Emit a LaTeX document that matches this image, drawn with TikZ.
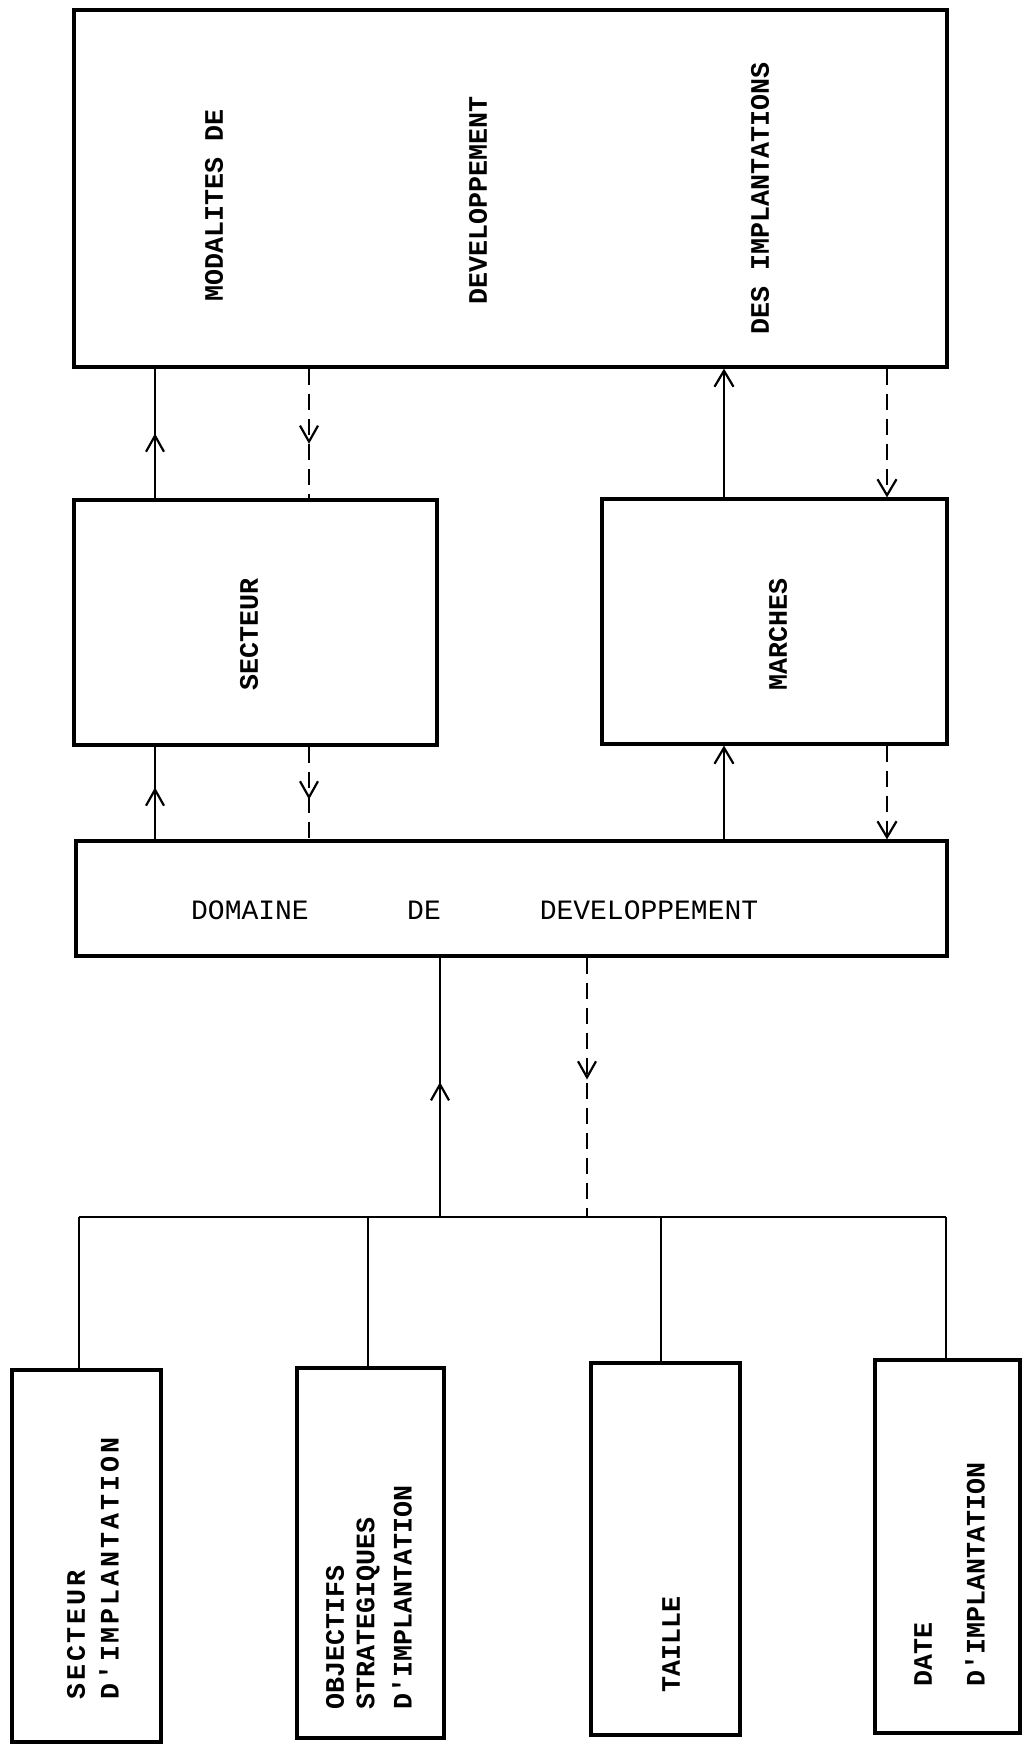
\documentclass[tikz,border=0pt]{standalone}
\usepackage{fontspec}
\newfontfamily\tw{Liberation Mono}
\newfontfamily\twsp[LetterSpace=11]{Liberation Mono}
\usetikzlibrary{arrows.meta,decorations.markings}
\begin{document}
\begin{tikzpicture}[x=1pt,y=-1pt,
  box/.style={draw, line width=3.2pt, inner sep=0pt, rectangle},
  conn/.style={line width=2.2pt},
  dsh/.style={conn, dash pattern=on 16pt off 9pt},
  tipend/.style={-{Straight Barb[length=16pt,width=19pt]}},
  midarrow/.style={postaction={decorate}, decoration={markings, mark=at position #1 with {\arrow{Straight Barb[length=16pt,width=18pt]}}}},
  vt/.style={rotate=90, anchor=west, inner sep=0pt, font=\tw\bfseries\fontsize{26.67}{30}\selectfont},
  vtsp/.style={rotate=90, anchor=west, inner sep=0pt, font=\twsp\bfseries\fontsize{26.67}{30}\selectfont},
  ht/.style={anchor=center, inner sep=0pt, font=\tw\fontsize{28}{30}\selectfont},
]
\fill[white] (0,0) rectangle (1027,1745);

% boxes
\node[box, minimum width=873pt, minimum height=357pt] (top) at (510.5,188.5) {};
\node[box, minimum width=363pt, minimum height=245pt] (secteur) at (255.5,622.5) {};
\node[box, minimum width=345pt, minimum height=245pt] (marches) at (774.5,621.5) {};
\node[box, minimum width=871pt, minimum height=115pt] (domaine) at (511.5,898.5) {};
\node[box, minimum width=149pt, minimum height=372pt] (b1) at (86.5,1556) {};
\node[box, minimum width=147pt, minimum height=370pt] (b2) at (370.5,1553) {};
\node[box, minimum width=149pt, minimum height=372pt] (b3) at (665.5,1549) {};
\node[box, minimum width=145pt, minimum height=373pt] (b4) at (947.5,1546.5) {};

% texts
\node[vt] (t1) at (214,302) {MODALITES DE};
\node[vt] (t2) at (478,305) {DEVELOPPEMENT};
\node[vt] (t3) at (760,335) {DES IMPLANTATIONS};
\node[vt] (ts) at (249,691) {SECTEUR};
\node[vt] (tm) at (778,691) {MARCHES};
\node[ht] (d1) at (250,910) {DOMAINE};
\node[ht] (d2) at (424,910) {DE};
\node[ht] (d3) at (649,910) {DEVELOPPEMENT};
\node[vtsp] (b1a) at (76,1700) {SECTEUR};
\node[vtsp] (b1b) at (109,1700) {D'IMPLANTATION};
\node[vt] (b2a) at (335,1710) {OBJECTIFS};
\node[vt] (b2b) at (368,1710) {STRATEGIQUES};
\node[vt] (b2c) at (402,1710) {D'IMPLANTATION};
\node[vt] (b3a) at (671,1693) {TAILLE};
\node[vt] (b4a) at (923,1687) {DATE};
\node[vt] (b4b) at (975,1687) {D'IMPLANTATION};

% x positions of connectors
\coordinate (xa) at (155,0);
\coordinate (xb) at (309,0);
\coordinate (xc) at (724,0);
\coordinate (xd) at (887,0);
\coordinate (xe) at (440,0);
\coordinate (xf) at (587,0);
\coordinate (bus) at (0,1217);
\coordinate (busL) at (79,1217);
\coordinate (busR) at (946,1217);
\coordinate (x1) at (79,0);
\coordinate (x2) at (368,0);
\coordinate (x3) at (661,0);
\coordinate (x4) at (946,0);

% top <-> secteur / marches
\draw[conn, midarrow=0.5] (secteur.north -| xa) -- (top.south -| xa);
\draw[dsh, midarrow=0.58] (top.south -| xb) -- (secteur.north -| xb);
\draw[conn, tipend] (marches.north -| xc) -- (top.south -| xc);
\draw[dsh, tipend] (top.south -| xd) -- (marches.north -| xd);

% secteur / marches <-> domaine
\draw[conn, midarrow=0.56] (domaine.north -| xa) -- (secteur.south -| xa);
\draw[dsh, midarrow=0.57] (secteur.south -| xb) -- (domaine.north -| xb);
\draw[conn, tipend] (domaine.north -| xc) -- (marches.south -| xc);
\draw[dsh, tipend] (marches.south -| xd) -- (domaine.north -| xd);

% domaine <-> bus
\draw[conn, midarrow=0.52] (bus -| xe) -- (domaine.south -| xe);
\draw[dsh, midarrow=0.47] (domaine.south -| xf) -- (bus -| xf);

% bus and drops
\draw[conn] (busL) -- (busR);
\draw[conn] (busL) -- (b1.north -| x1);
\draw[conn] (bus -| x2) -- (b2.north -| x2);
\draw[conn] (bus -| x3) -- (b3.north -| x3);
\draw[conn] (busR) -- (b4.north -| x4);
\end{tikzpicture}
\end{document}
